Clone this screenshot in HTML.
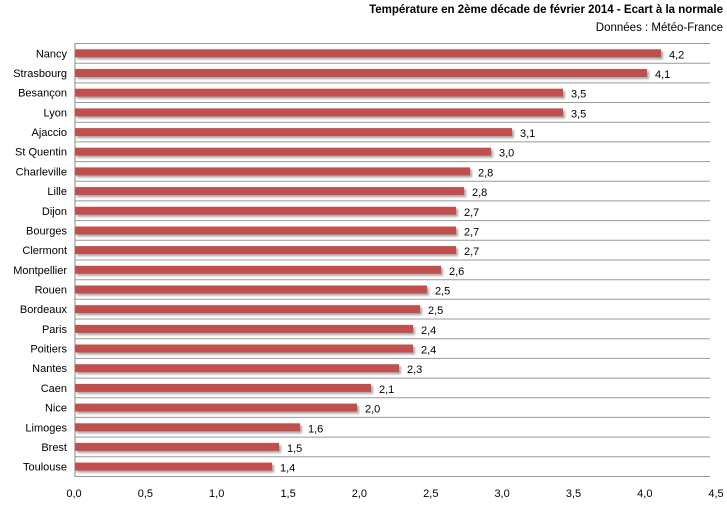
<!DOCTYPE html>
<html><head><style>body{margin:0;background:#fff}.n{text-anchor:end}.t{text-anchor:middle}</style></head><body>
<svg width="727" height="503" xmlns="http://www.w3.org/2000/svg" font-family="'Liberation Sans',sans-serif" font-size="11">
<defs><filter id="s" x="-5%" y="-50%" width="110%" height="250%"><feDropShadow dx="2" dy="2" stdDeviation="1" flood-color="#000" flood-opacity="0.35"/></filter></defs>
<text x="723" y="13" class="n" font-weight="bold" font-size="11.5">Température en 2ème décade de février 2014 - Ecart à la normale</text>
<text x="723" y="31" class="n" font-size="11.5">Données : Météo-France</text>
<g stroke="#999" stroke-width="1">
<line x1="75" x2="710" y1="43.5" y2="43.5"/><line x1="75" x2="710" y1="63.2" y2="63.2"/><line x1="75" x2="710" y1="82.9" y2="82.9"/><line x1="75" x2="710" y1="102.5" y2="102.5"/><line x1="75" x2="710" y1="122.2" y2="122.2"/><line x1="75" x2="710" y1="141.9" y2="141.9"/><line x1="75" x2="710" y1="161.6" y2="161.6"/><line x1="75" x2="710" y1="181.3" y2="181.3"/><line x1="75" x2="710" y1="200.9" y2="200.9"/><line x1="75" x2="710" y1="220.6" y2="220.6"/><line x1="75" x2="710" y1="240.3" y2="240.3"/><line x1="75" x2="710" y1="260" y2="260"/><line x1="75" x2="710" y1="279.7" y2="279.7"/><line x1="75" x2="710" y1="299.3" y2="299.3"/><line x1="75" x2="710" y1="319" y2="319"/><line x1="75" x2="710" y1="338.7" y2="338.7"/><line x1="75" x2="710" y1="358.4" y2="358.4"/><line x1="75" x2="710" y1="378.1" y2="378.1"/><line x1="75" x2="710" y1="397.7" y2="397.7"/><line x1="75" x2="710" y1="417.4" y2="417.4"/><line x1="75" x2="710" y1="437.1" y2="437.1"/><line x1="75" x2="710" y1="456.8" y2="456.8"/><line x1="75" x2="710" y1="476.5" y2="476.5"/>
<line x1="75" x2="75" y1="43" y2="477" stroke="#888"/>
</g>
<g fill="#c0504d" filter="url(#s)">
<rect x="75" y="49.3" width="586" height="8"/><rect x="75" y="69" width="572" height="8"/><rect x="75" y="88.7" width="488" height="8"/><rect x="75" y="108.4" width="488" height="8"/><rect x="75" y="128.1" width="437" height="8"/><rect x="75" y="147.7" width="416" height="8"/><rect x="75" y="167.4" width="395" height="8"/><rect x="75" y="187.1" width="389" height="8"/><rect x="75" y="206.8" width="381" height="8"/><rect x="75" y="226.5" width="381" height="8"/><rect x="75" y="246.1" width="381" height="8"/><rect x="75" y="265.8" width="366" height="8"/><rect x="75" y="285.5" width="352" height="8"/><rect x="75" y="305.2" width="345" height="8"/><rect x="75" y="324.9" width="338" height="8"/><rect x="75" y="344.5" width="338" height="8"/><rect x="75" y="364.2" width="324" height="8"/><rect x="75" y="383.9" width="296" height="8"/><rect x="75" y="403.6" width="282" height="8"/><rect x="75" y="423.3" width="225" height="8"/><rect x="75" y="442.9" width="204" height="8"/><rect x="75" y="462.6" width="197" height="8"/>
</g>
<g class="n">
<text x="67" y="57.3">Nancy</text><text x="67" y="77">Strasbourg</text><text x="67" y="96.7">Besançon</text><text x="67" y="116.4">Lyon</text><text x="67" y="136.1">Ajaccio</text><text x="67" y="155.7">St Quentin</text><text x="67" y="175.4">Charleville</text><text x="67" y="195.1">Lille</text><text x="67" y="214.8">Dijon</text><text x="67" y="234.5">Bourges</text><text x="67" y="254.1">Clermont</text><text x="67" y="273.8">Montpellier</text><text x="67" y="293.5">Rouen</text><text x="67" y="313.2">Bordeaux</text><text x="67" y="332.9">Paris</text><text x="67" y="352.5">Poitiers</text><text x="67" y="372.2">Nantes</text><text x="67" y="391.9">Caen</text><text x="67" y="411.6">Nice</text><text x="67" y="431.3">Limoges</text><text x="67" y="450.9">Brest</text><text x="67" y="470.6">Toulouse</text>
</g>
<g>
<text x="669" y="58.3">4,2</text><text x="655" y="78">4,1</text><text x="571" y="97.7">3,5</text><text x="571" y="117.4">3,5</text><text x="520" y="137.1">3,1</text><text x="499" y="156.7">3,0</text><text x="478" y="176.4">2,8</text><text x="472" y="196.1">2,8</text><text x="464" y="215.8">2,7</text><text x="464" y="235.5">2,7</text><text x="464" y="255.1">2,7</text><text x="449" y="274.8">2,6</text><text x="435" y="294.5">2,5</text><text x="428" y="314.2">2,5</text><text x="421" y="333.9">2,4</text><text x="421" y="353.5">2,4</text><text x="407" y="373.2">2,3</text><text x="379" y="392.9">2,1</text><text x="365" y="412.6">2,0</text><text x="308" y="432.3">1,6</text><text x="287" y="451.9">1,5</text><text x="280" y="471.6">1,4</text>
</g>
<g class="t">
<text x="74" y="497">0,0</text><text x="145.4" y="497">0,5</text><text x="216.7" y="497">1,0</text><text x="288.1" y="497">1,5</text><text x="359.4" y="497">2,0</text><text x="430.8" y="497">2,5</text><text x="502.1" y="497">3,0</text><text x="573.5" y="497">3,5</text><text x="644.8" y="497">4,0</text><text x="716" y="497">4,5</text>
</g>
</svg>
</body></html>
